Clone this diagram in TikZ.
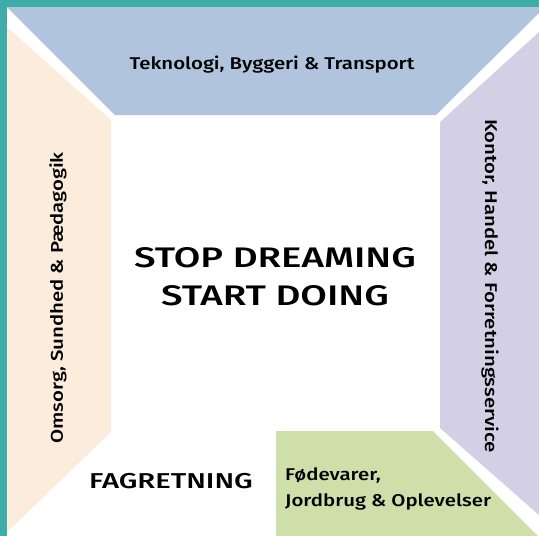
\documentclass[tikz,border=0pt]{standalone}
\usepackage{fontspec}
\setmainfont{Fira Sans}[UprightFont=* Medium, FakeStretch=1.2]
\newfontfamily\capsfont{Fira Sans}[UprightFont=* Medium, FakeStretch=1.36]
\definecolor{tealbar}{HTML}{3EADAA}
\definecolor{techblue}{HTML}{B0C4DE}
\definecolor{carebeige}{HTML}{FCECDB}
\definecolor{officelilac}{HTML}{D3D0E5}
\definecolor{foodgreen}{HTML}{CFDFAA}

\begin{document}
\begin{tikzpicture}[x=1pt, y=-1pt,
		lab/.style={inner sep=0pt, font=\fontsize{17}{26}\selectfont}]
		\useasboundingbox (0,0) rectangle (539,536);
		% frame
		\fill[tealbar] (0,0) rectangle (539,7);
		\fill[tealbar] (0,0) rectangle (7,536);
		% four fields
		\fill[techblue] (7,7) -- (539,7) -- (539,13) -- (436,115) -- (115,115) -- cycle;
		\fill[carebeige] (7,27) -- (111,120) -- (111,432) -- (7,532) -- cycle;
		\fill[officelilac] (440,122) -- (539,32) -- (539,515) -- (440,428) -- cycle;
		\fill[foodgreen] (276,431) -- (433,431) -- (538,536) -- (276,536) -- cycle;
		% labels
		\node[lab, anchor=base] (tech) at (272,69) {Teknologi, Byggeri \& Transport};
		\node[lab, anchor=base, rotate=90] (care) at (63,298) {Omsorg, Sundhed \& Pædagogik};
		\node[lab, anchor=base, rotate=-90] (office) at (485,286) {Kontor, Handel \& Forretningsservice};
		\node[lab, anchor=north west, align=left] (food) at (285,467) {Fødevarer,\\Jordbrug \& Oplevelser};
		\node[lab, anchor=base, font=\capsfont\fontsize{21.5}{24}\selectfont] (field) at (171,488) {FAGRETNING};
		\node[anchor=north, align=center, inner sep=0pt,
			font=\capsfont\fontsize{28.3}{38}\selectfont] (slogan) at (275,247) {STOP DREAMING\\START DOING};
		\end{tikzpicture}
\end{document}
